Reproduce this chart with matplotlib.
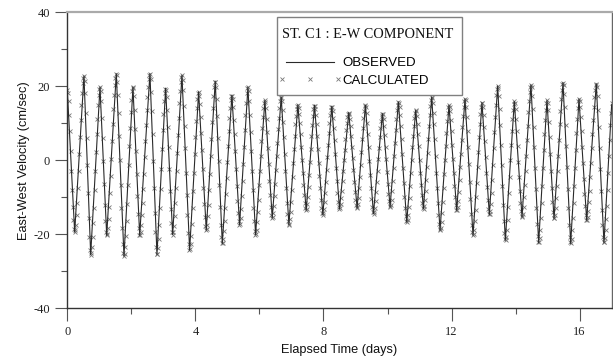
import matplotlib
matplotlib.use('Agg')
import matplotlib.pyplot as plt
from matplotlib.font_manager import FontProperties
from matplotlib.legend_handler import HandlerLine2D
from matplotlib.patches import Rectangle
from matplotlib.ticker import MultipleLocator
import numpy as np

plt.rcParams['axes.unicode_minus'] = False

# observed current: turning points (peaks / troughs)
obs_days = [0.00, 0.23, 0.52, 0.73, 1.02, 1.23, 1.53, 1.77, 2.05, 2.26,
            2.58, 2.80, 3.07, 3.29, 3.58, 3.82, 4.10, 4.34, 4.62, 4.84,
            5.14, 5.38, 5.64, 5.88, 6.17, 6.40, 6.68, 6.92, 7.20, 7.46,
            7.72, 7.98, 8.26, 8.50, 8.79, 9.05, 9.31, 9.56, 9.84, 10.08,
            10.34, 10.60, 10.88, 11.12, 11.38, 11.64, 11.92, 12.16, 12.42, 12.67,
            12.95, 13.18, 13.44, 13.68, 13.96, 14.20, 14.48, 14.72, 14.98, 15.20,
            15.48, 15.72, 15.98, 16.22, 16.52, 16.76, 17.00]
obs_vel = [18.9, -19.4, 22.8, -25.5, 19.8, -20.3, 23.4, -25.9, 19.8, -20.3,
           23.4, -25.5, 19.5, -20.1, 23.0, -24.3, 18.5, -18.9, 21.4, -22.5,
           17.6, -17.4, 19.8, -20.1, 16.2, -15.6, 17.1, -17.4, 15.0, -13.5,
           14.9, -14.7, 14.6, -13.1, 12.9, -12.9, 14.9, -14.4, 12.6, -12.6,
           15.8, -16.7, 13.5, -13.1, 17.1, -18.9, 14.9, -13.5, 16.6, -20.3,
           15.6, -14.7, 20.1, -21.6, 15.9, -15.3, 20.4, -22.3, 16.2, -15.8,
           21.0, -22.5, 16.6, -16.2, 20.7, -22.3, 15.0]

# calculated current, one value every 30 minutes (cm/sec)
calc_vel = [
    18.9, 18.1, 15.9, 12.3, 7.8, 2.6, -2.8, -8.1, -12.7, -16.2, -18.6, -19.4,
    -18.9, -17.4, -14.9, -11.5, -7.5, -3.0, 1.7, 6.4, 10.9, 14.9, 18.3, 20.8, 22.3,
    22.8, 21.5, 18.1, 12.8, 6.0, -1.4, -8.7, -15.5, -20.8, -24.2, -25.5,
    -25.0, -23.3, -20.6, -17.0, -12.8, -7.9, -2.9, 2.2, 7.1, 11.3, 14.9, 17.6, 19.3,
    19.8, 18.8, 15.9, 11.5, 5.9, -0.3, -6.4, -12.0, -16.4, -19.3, -20.3,
    -19.8, -18.3, -15.9, -12.6, -8.7, -4.3, 0.4, 5.2, 9.7, 14.0, 17.6, 20.4, 22.3, 23.3,
    23.1, 21.2, 17.7, 12.7, 6.7, 0.1, -6.6, -12.9, -18.2, -22.5, -25.1,
    -25.9, -25.2, -23.3, -20.4, -16.4, -11.8, -6.7, -1.3, 3.9, 8.7, 13.0, 16.3, 18.6, 19.7,
    19.5, 17.4, 13.6, 8.5, 2.5, -3.8, -9.6, -14.6, -18.2, -20.1,
    -20.2, -19.3, -17.5, -14.8, -11.6, -7.8, -3.6, 0.9, 5.3, 9.6, 13.5, 17.0, 19.9, 21.9, 23.1,
    23.4, 22.0, 18.5, 13.4, 7.0, -0.2, -7.4, -14.2, -19.5, -23.4, -25.3,
    -25.3, -23.8, -21.2, -17.4, -12.9, -7.8, -2.4, 3.0, 8.1, 12.6, 16.0, 18.3, 19.4,
    19.1, 17.2, 13.7, 9.0, 3.5, -2.4, -8.2, -13.2, -17.0, -19.4,
    -20.1, -19.5, -17.8, -15.1, -11.6, -7.4, -2.8, 2.1, 6.8, 11.4, 15.5, 18.8, 21.2, 22.6,
    23.0, 21.8, 19.0, 14.8, 9.4, 3.2, -3.3, -9.5, -14.9, -19.6, -22.7, -24.2,
    -24.1, -22.7, -20.4, -17.1, -12.9, -8.2, -3.3, 1.6, 6.4, 10.6, 14.1, 16.6, 18.1,
    18.5, 17.5, 15.2, 11.8, 7.5, 2.7, -2.4, -7.4, -11.8, -15.3, -17.7, -18.8,
    -18.6, -17.4, -15.1, -12.0, -8.0, -3.6, 1.1, 5.7, 10.3, 14.1, 17.4, 19.7, 21.1,
    21.3, 19.9, 16.7, 12.0, 6.1, -0.3, -6.7, -12.7, -17.5, -20.8, -22.4,
    -22.3, -21.2, -19.2, -16.4, -12.9, -9.1, -4.7, -0.4, 3.9, 7.8, 11.4, 14.2, 16.2, 17.4,
    17.5, 16.6, 14.3, 11.0, 7.0, 2.4, -2.4, -6.9, -11.0, -14.2, -16.4, -17.4,
    -17.1, -15.6, -13.1, -9.7, -5.6, -1.1, 3.6, 8.1, 12.2, 15.6, 18.1, 19.5,
    19.7, 18.6, 16.1, 12.3, 7.7, 2.5, -3.0, -8.1, -12.8, -16.4, -19.0, -20.1,
    -19.8, -18.7, -16.7, -14.0, -10.6, -6.8, -2.8, 1.3, 5.2, 8.8, 11.8, 14.1, 15.6, 16.2,
    15.8, 14.1, 11.3, 7.6, 3.4, -1.1, -5.6, -9.4, -12.6, -14.7, -15.6,
    -15.3, -14.2, -12.3, -9.6, -6.4, -2.7, 1.1, 4.8, 8.4, 11.5, 14.1, 15.9, 16.9,
    17.0, 15.9, 13.7, 10.4, 6.3, 1.8, -2.9, -7.5, -11.5, -14.6, -16.5, -17.4,
    -17.1, -15.9, -14.0, -11.3, -8.1, -4.5, -0.8, 3.0, 6.5, 9.7, 12.1, 13.9, 14.8,
    14.9, 14.1, 12.5, 10.1, 7.2, 3.7, 0.2, -3.4, -6.6, -9.4, -11.6, -13.0, -13.5,
    -13.1, -11.9, -9.9, -7.2, -4.0, -0.5, 3.1, 6.5, 9.6, 12.1, 13.8, 14.8,
    14.8, 13.9, 12.2, 9.7, 6.6, 3.1, -0.6, -4.3, -7.6, -10.6, -12.8, -14.2, -14.7,
    -14.3, -13.2, -11.3, -8.8, -5.9, -2.7, 0.8, 4.1, 7.3, 10.1, 12.2, 13.7, 14.5,
    14.5, 13.4, 11.4, 8.7, 5.4, 1.7, -2.1, -5.7, -8.8, -11.2, -12.6, -13.1,
    -12.8, -11.8, -10.2, -8.2, -5.7, -2.9, 0.0, 2.9, 5.8, 8.1, 10.2, 11.7, 12.6,
    12.9, 12.4, 11.2, 9.2, 6.7, 3.7, 0.5, -2.7, -5.8, -8.5, -10.6, -12.1, -12.8,
    -12.7, -11.8, -10.1, -7.6, -4.5, -1.2, 2.3, 5.7, 8.8, 11.4, 13.4, 14.6,
    14.9, 14.3, 12.7, 10.2, 7.2, 3.6, -0.2, -4.0, -7.5, -10.4, -12.6, -14.0,
    -14.4, -13.9, -12.8, -11.0, -8.6, -5.8, -2.8, 0.4, 3.4, 6.3, 8.7, 10.7, 12.0, 12.6,
    12.4, 11.3, 9.4, 6.8, 3.7, 0.3, -3.1, -6.3, -9.0, -11.0, -12.3,
    -12.6, -12.0, -10.6, -8.3, -5.5, -2.2, 1.3, 4.8, 8.2, 11.2, 13.5, 15.0, 15.8,
    15.6, 14.4, 12.2, 9.3, 5.8, 1.8, -2.2, -6.2, -9.9, -12.9, -15.1, -16.4,
    -16.7, -16.1, -14.7, -12.7, -10.1, -6.9, -3.4, 0.1, 3.5, 6.7, 9.3, 11.5, 12.9, 13.5,
    13.2, 12.0, 9.9, 7.1, 3.8, 0.2, -3.4, -6.7, -9.5, -11.6, -12.8,
    -13.1, -12.4, -10.8, -8.3, -5.3, -1.8, 2.0, 5.8, 9.3, 12.3, 14.8, 16.4, 17.1,
    16.8, 15.4, 12.9, 9.7, 5.7, 1.2, -3.3, -7.6, -11.6, -14.9, -17.2, -18.6,
    -18.9, -18.2, -16.6, -14.2, -11.2, -7.6, -3.8, 0.2, 4.0, 7.5, 10.5, 12.8, 14.3, 14.9,
    14.5, 13.2, 10.8, 7.8, 4.2, 0.4, -3.4, -7.0, -9.9, -12.0, -13.3,
    -13.5, -12.7, -11.0, -8.5, -5.4, -1.9, 1.8, 5.6, 9.1, 12.1, 14.5, 16.0, 16.6,
    16.2, 14.5, 11.7, 8.0, 3.7, -1.1, -5.9, -10.4, -14.4, -17.4, -19.5, -20.3,
    -20.0, -18.7, -16.5, -13.5, -10.0, -6.0, -1.8, 2.3, 6.2, 9.7, 12.4, 14.4, 15.4,
    15.5, 14.4, 12.2, 9.0, 5.2, 1.0, -3.3, -7.3, -10.6, -13.1, -14.4,
    -14.6, -13.7, -11.7, -8.9, -5.3, -1.2, 3.2, 7.6, 11.6, 15.0, 17.7, 19.4, 20.1,
    19.5, 17.4, 14.0, 9.5, 4.2, -1.4, -7.0, -12.1, -16.4, -19.6, -21.3,
    -21.5, -20.7, -18.8, -16.1, -12.7, -8.7, -4.4, 0.0, 4.1, 8.0, 11.2, 13.7, 15.3, 15.9,
    15.4, 13.8, 11.2, 7.8, 3.8, -0.4, -4.6, -8.4, -11.6, -13.8, -15.1,
    -15.2, -14.4, -12.6, -9.9, -6.7, -2.9, 1.2, 5.4, 9.4, 13.0, 16.1, 18.4, 19.9, 20.4,
    19.7, 17.5, 13.8, 9.1, 3.6, -2.1, -7.8, -13.0, -17.3, -20.4, -22.0,
    -22.2, -21.1, -18.8, -15.6, -11.5, -6.9, -2.1, 2.7, 7.0, 10.8, 13.7, 15.5, 16.2,
    15.6, 13.5, 10.4, 6.3, 1.7, -3.0, -7.5, -11.3, -14.0, -15.5,
    -15.7, -14.8, -13.0, -10.3, -6.9, -3.0, 1.2, 5.5, 9.7, 13.4, 16.6, 18.9, 20.5, 21.0,
    20.3, 18.0, 14.3, 9.5, 3.9, -1.9, -7.7, -13.0, -17.4, -20.6, -22.2,
    -22.4, -21.2, -18.9, -15.7, -11.5, -6.9, -2.0, 2.9, 7.3, 11.1, 14.1, 15.9, 16.6,
    16.0, 14.3, 11.6, 7.9, 3.7, -0.7, -5.1, -9.1, -12.4, -14.7, -16.0,
    -16.1, -15.3, -13.7, -11.2, -8.2, -4.6, -0.8, 3.2, 7.2, 10.9, 14.3, 17.0, 19.0, 20.3,
    20.7, 19.8, 17.5, 13.7, 9.0, 3.4, -2.4, -8.2, -13.4, -17.6, -20.6, -22.1,
    -22.2, -21.1, -18.9, -15.9, -12.3, -8.0, -3.5, 1.1, 5.6, 9.5, 12.9, 15.4,
]
calc_days = np.arange(len(calc_vel)) / 48.0  # 30 min sampling

serif = 'Liberation Serif'
sans = 'Liberation Sans'
W, H = 613, 359

fig = plt.figure(figsize=(6.13, 3.59), dpi=100)
ax = fig.add_axes([0.1098, 0.1412, 0.888, 0.8245])

calc_pts, = ax.plot(calc_days, calc_vel, linestyle='none', marker='x',
                    markersize=3.5, markeredgewidth=0.6, color='#777777', zorder=2)
obs_line, = ax.plot(obs_days, obs_vel, color='#2a2a2a', lw=0.8, zorder=3)

ax.set_xlim(0, 17)
ax.set_ylim(-40, 40)
ax.xaxis.set_major_locator(MultipleLocator(4))
ax.xaxis.set_minor_locator(MultipleLocator(2))
ax.yaxis.set_major_locator(MultipleLocator(20))
ax.yaxis.set_minor_locator(MultipleLocator(10))
ax.tick_params(which='major', direction='out', length=9, width=0.8, color='#555555', pad=3.5)
ax.tick_params(which='minor', direction='out', length=4, width=0.8, color='#555555')
for lab in ax.get_xticklabels() + ax.get_yticklabels():
    lab.set_fontfamily(serif)
    lab.set_fontsize(9)
    lab.set_color('#222222')

for side in ['left', 'bottom']:
    ax.spines[side].set_color('#333333')
    ax.spines[side].set_linewidth(1.0)
ax.spines['top'].set_color('#aaaaaa')
ax.spines['top'].set_linewidth(1.6)
ax.spines['right'].set_color('#666666')
ax.spines['right'].set_linewidth(1.0)

ax.set_xlabel('Elapsed Time (days)', fontfamily=sans, fontsize=9.2, color='#111111')
ax.set_ylabel('East-West Velocity (cm/sec)', fontfamily=sans, fontsize=9.2, color='#111111')
ax.xaxis.set_label_coords(0.5, -0.141)
ax.xaxis.label.set_va('center')
ax.yaxis.set_label_coords(-0.0795, 0.5)
ax.yaxis.label.set_va('center')

# legend box drawn by hand so the title row can sit apart from the entries
box = Rectangle((276.7 / W, 1 - 94.7 / H), (462 - 276.7) / W, (94.7 - 17.3) / H,
                transform=fig.transFigure, facecolor='white', edgecolor='#808080',
                linewidth=1.0, zorder=4)
fig.patches.append(box)
fig.text(367.5 / W, 1 - 35 / H, 'ST. C1 : E-W COMPONENT', family=serif, size=10.4,
         ha='center', va='center', color='#111111', zorder=5)
leg = fig.legend(handles=[obs_line, calc_pts], labels=['OBSERVED', 'CALCULATED'],
                 loc='upper left', bbox_to_anchor=(281.7 / W, 1 - 57 / H),
                 borderaxespad=0, borderpad=0, frameon=False,
                 prop=FontProperties(family=sans, size=9.5),
                 handlelength=4.3, handletextpad=0.3, labelspacing=0.42,
                 numpoints=3, handler_map={calc_pts: HandlerLine2D(marker_pad=0)})
leg.set_zorder(6)

fig.savefig('out.png', dpi=100)
